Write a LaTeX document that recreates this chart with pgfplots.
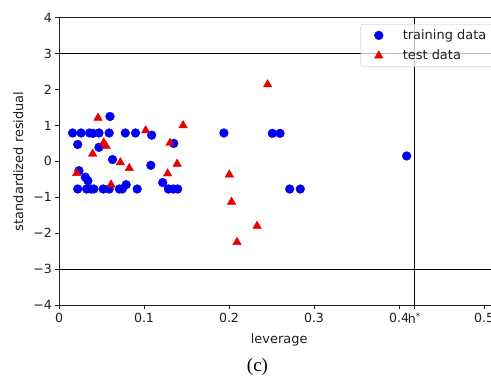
\documentclass[border=0pt]{standalone}
\usepackage{pgfplots}
\pgfplotsset{compat=1.18}
\usepackage{fontspec}
\setmainfont{DejaVu Sans}
\newfontfamily\capfont{Liberation Serif}

\definecolor{trainblue}{RGB}{0,0,245}
\definecolor{testred}{RGB}{230,0,0}
\definecolor{spine}{RGB}{30,30,30}

% training set: leverage, standardized residual
\pgfplotstableread{
h      r
0.016  0.79
0.026  0.79
0.036  0.79
0.040  0.78
0.047  0.79
0.059  0.79
0.078  0.79
0.090  0.79
0.109  0.73
0.194  0.79
0.251  0.78
0.260  0.78
0.060  1.25
0.022  0.47
0.047  0.39
0.135  0.50
0.063  0.05
0.108 -0.11
0.0235 -0.26
0.031 -0.44
0.034 -0.54
0.122 -0.59
0.409  0.15
0.022 -0.77
0.0325 -0.77
0.0376 -0.77
0.041 -0.77
0.052 -0.77
0.059 -0.77
0.071 -0.77
0.0745 -0.77
0.079 -0.65
0.0920 -0.77
0.1286 -0.77
0.1345 -0.77
0.1396 -0.77
0.2714 -0.77
0.2839 -0.77
}\traindata

% test set: leverage, standardized residual
\pgfplotstableread{
h      r
0.0459  1.21
0.146   1.00
0.102   0.86
0.0526  0.52
0.0555  0.42
0.1306  0.51
0.0396  0.21
0.0722 -0.03
0.139  -0.07
0.0827 -0.19
0.0208 -0.33
0.1278 -0.34
0.0612 -0.65
0.2004 -0.37
0.203  -1.13
0.2094 -2.25
0.2455  2.14
0.233  -1.80
}\testdata

\begin{document}
\begin{tikzpicture}
\path[use as bounding box] (-59bp,-71bp) rectangle (432bp,305bp);
\begin{axis}[
  scale only axis,
  width=440.3bp, height=287.3bp,
  xmin=0, xmax=0.518,
  ymin=-4, ymax=4,
  axis line style={spine, line width=0.8bp},
  axis x line*=box,
  axis y line*=left,
  tick align=outside,
  major tick length=3.5bp,
  every tick/.style={spine, line width=0.8bp},
  xtick={0,0.1,0.2,0.3,0.4,0.5},
  xticklabels={0,0.1,0.2,0.3,0.4,0.5},
  xtick pos=bottom,
  ytick={-4,-3,-2,-1,0,1,2,3,4},
  yticklabels={−4,−3,−2,−1,0,1,2,3,4},
  ytick pos=left,
  extra x ticks={0.418},
  extra x tick labels={h\textsuperscript{*}},
  extra x tick style={xtick pos=bottom, grid=none},
  tick label style={font=\fontsize{12.6}{14}\selectfont, text=spine},
  xticklabel style={yshift=-1bp},
  xlabel={leverage},
  ylabel={standardized residual},
  every axis x label/.style={at={(axis description cs:0.5,0)}, yshift=-35bp,
    anchor=center, font=\fontsize{13}{15}\selectfont, text=spine},
  every axis y label/.style={at={(axis description cs:0,0.5)}, xshift=-40.7bp,
    rotate=90, anchor=center, font=\fontsize{13}{15}\selectfont, text=spine},
  legend cell align=left,
  legend image code/.code={%
    \path[draw=none] (0bp,0bp) -- (30bp,0bp);
    \path[#1, draw=none, fill opacity=1, draw opacity=1]
      plot[only marks] coordinates {(8bp,0bp)};
  },
  legend style={
    at={(rel axis cs:0.685,0.978)}, anchor=north west,
    draw=lightgray, rounded corners=2bp,
    fill=white, fill opacity=0.75, draw opacity=1, text opacity=1,
    font=\fontsize{13}{15}\selectfont, text=spine,
    inner xsep=10bp, inner ysep=3.5bp, row sep=5bp,
  },
  clip=false,
]
\draw[black, line width=0.8bp] (axis cs:0,3) -- (axis cs:0.518,3);
\draw[black, line width=0.8bp] (axis cs:0,-3) -- (axis cs:0.518,-3);
\draw[black, line width=0.8bp] (axis cs:0.418,-4) -- (axis cs:0.418,4);
\addplot[only marks, mark=*, mark size=4.4bp, color=trainblue,
  mark options={draw=trainblue, fill=trainblue, fill opacity=1}]
  table[x=h, y=r] {\traindata};
\addlegendentry{training data}
\addplot[only marks, mark=triangle*, mark size=4.9bp, color=testred,
  mark options={draw=testred, fill=testred, fill opacity=1}]
  table[x=h, y=r] {\testdata};
\addlegendentry{test data}
\end{axis}
\node[font=\capfont\fontsize{19}{21}\selectfont, anchor=center] at (198.5bp,-61.7bp) {(c)};
\end{tikzpicture}
\end{document}
